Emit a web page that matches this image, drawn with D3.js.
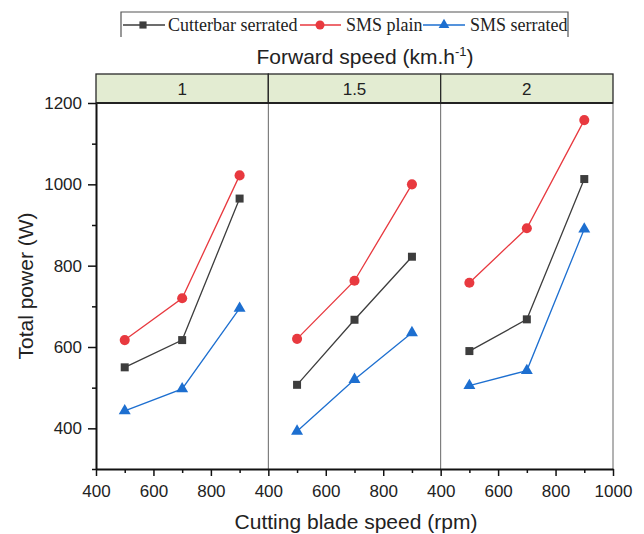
<!DOCTYPE html>
<html>
<head>
<meta charset="utf-8">
<script src="https://cdn.jsdelivr.net/npm/d3@7"></script>
<style>
  body { margin: 0; background: #fff; }
  svg { display: block; }
</style>
</head>
<body>
<svg width="644" height="534"></svg>
<script>
// data
const speeds = ["1", "1.5", "2"];           // forward speed panels (km/h)
const rpm = [500, 700, 900];                  // cutting blade speed
const cutterbarSerrated = [[550, 617, 965], [507, 667, 822], [590, 668, 1013]];
const smsPlain = [[617, 720, 1022], [620, 763, 1000], [758, 892, 1158]];
const smsSerrated = [[443, 497, 695], [393, 520, 635], [505, 542, 890]];
const yTicks = [400, 600, 800, 1000, 1200];
const xTicks = [400, 600, 800, 1000];

const series = [
  {name: "Cutterbar serrated", values: cutterbarSerrated, color: "#3d3d3d", shape: d3.symbolSquare, size: 64},
  {name: "SMS plain", values: smsPlain, color: "#e8393f", shape: d3.symbolCircle, size: 80},
  {name: "SMS serrated", values: smsSerrated, color: "#1d6fd0", shape: d3.symbolTriangle, size: 62}
];

const pLeft = 96, pRight = 613, pTop = 103, pBottom = 469, stripTop = 74;
const panelW = (pRight - pLeft) / speeds.length;

const svg = d3.select("svg");

const y = d3.scaleLinear().domain([300, 1200]).range([pBottom, pTop]);

// strips
const strips = svg.append("g");
speeds.forEach((s, i) => {
  const x0 = pLeft + i * panelW;
  strips.append("rect")
      .attr("x", x0).attr("y", stripTop)
      .attr("width", panelW).attr("height", pTop - stripTop)
      .attr("fill", "#e3ecd2").attr("stroke", "#2a2a2a").attr("stroke-width", 1.3);
  strips.append("text")
      .attr("x", x0 + panelW / 2).attr("y", stripTop + 21)
      .attr("text-anchor", "middle")
      .style("font", "17px 'Liberation Sans', Arial, sans-serif")
      .attr("fill", "#222")
      .text(s);
});

// panels
speeds.forEach((s, i) => {
  const x0 = pLeft + i * panelW;
  const x = d3.scaleLinear().domain([400, 1000]).range([x0, x0 + panelW]);
  const g = svg.append("g");

  // panel separator / right frame
  g.append("line")
      .attr("x1", x0 + panelW).attr("x2", x0 + panelW)
      .attr("y1", pTop).attr("y2", pBottom)
      .attr("stroke", "#666").attr("stroke-width", 1);

  // x axis
  const ax = g.append("g").attr("transform", `translate(0,${pBottom})`)
      .call(d3.axisBottom(x).tickValues(i === speeds.length - 1 ? xTicks : xTicks.slice(0, 3))
        .tickSize(7).tickSizeOuter(0).tickFormat(d3.format("d")));
  ax.select(".domain").attr("stroke", "#111").attr("stroke-width", 2);
  ax.selectAll(".tick line").attr("stroke", "#111").attr("stroke-width", 1.5);
  ax.selectAll(".tick text").attr("dy", "1.05em")
      .style("font", "17px 'Liberation Sans', Arial, sans-serif").attr("fill", "#222");
  g.append("g").attr("transform", `translate(0,${pBottom})`)
      .call(d3.axisBottom(x).tickValues([500, 700, 900]).tickSize(4).tickSizeOuter(0).tickFormat(""))
    .call(a => a.select(".domain").remove())
    .selectAll(".tick line").attr("stroke", "#111").attr("stroke-width", 1.5);

  const line = d3.line().x((d, j) => x(rpm[j])).y(d => y(d));

  series.forEach(se => {
    g.append("path")
        .attr("d", line(se.values[i]))
        .attr("fill", "none").attr("stroke", se.color).attr("stroke-width", 1.3);
    g.selectAll(null)
      .data(se.values[i])
      .join("path")
        .attr("transform", (d, j) => `translate(${x(rpm[j])},${y(d)})`)
        .attr("d", d3.symbol(se.shape, se.size))
        .attr("fill", se.color);
  });
});

// y axis
const ay = svg.append("g").attr("transform", `translate(${pLeft},0)`)
    .call(d3.axisLeft(y).tickValues(yTicks).tickSize(8).tickSizeOuter(0).tickPadding(6)
      .tickFormat(d3.format("d")));
ay.select(".domain").attr("stroke", "#111").attr("stroke-width", 2);
ay.selectAll(".tick line").attr("stroke", "#111").attr("stroke-width", 1.5);
ay.selectAll(".tick text").style("font", "17px 'Liberation Sans', Arial, sans-serif").attr("fill", "#222");
svg.append("g").attr("transform", `translate(${pLeft},0)`)
    .call(d3.axisLeft(y).tickValues([300, 500, 700, 900, 1100]).tickSize(4).tickSizeOuter(0).tickFormat(""))
  .call(a => a.select(".domain").remove())
  .selectAll(".tick line").attr("stroke", "#111").attr("stroke-width", 1.5);

// top frame line
svg.append("line").attr("x1", pLeft).attr("x2", pRight).attr("y1", pTop).attr("y2", pTop)
    .attr("stroke", "#222").attr("stroke-width", 2);

// titles
svg.append("text")
    .attr("transform", `translate(33,286) rotate(-90)`)
    .attr("text-anchor", "middle")
    .style("font", "21px 'Liberation Sans', Arial, sans-serif").attr("fill", "#222")
    .text("Total power (W)");

svg.append("text")
    .attr("x", 356).attr("y", 529)
    .attr("text-anchor", "middle")
    .style("font", "21px 'Liberation Sans', Arial, sans-serif").attr("fill", "#222")
    .text("Cutting blade speed (rpm)");

const ft = svg.append("text")
    .attr("x", 365).attr("y", 64)
    .attr("text-anchor", "middle")
    .style("font", "21px 'Liberation Sans', Arial, sans-serif").attr("fill", "#222");
ft.append("tspan").text("Forward speed (km.h");
ft.append("tspan").attr("dy", -8).style("font-size", "13px").text("-1");
ft.append("tspan").attr("dy", 8).text(")");

// legend
const lg = svg.append("g");
lg.append("path")
    .attr("d", "M121,37V12H568V37")
    .attr("fill", "none").attr("stroke", "#555").attr("stroke-width", 1.2);
const legendPos = [{x1: 123, x2: 165, m: 143, t: 168}, {x1: 300, x2: 341, m: 320, t: 346}, {x1: 423, x2: 465, m: 444, t: 470}];
series.forEach((se, k) => {
  const p = legendPos[k];
  lg.append("line").attr("x1", p.x1).attr("x2", p.x2).attr("y1", 25).attr("y2", 25)
      .attr("stroke", se.color).attr("stroke-width", 1.3);
  lg.append("path").attr("transform", `translate(${p.m},25)`)
      .attr("d", d3.symbol(se.shape, se.size * 0.8)).attr("fill", se.color);
  lg.append("text").attr("x", p.t).attr("y", 31)
      .style("font", "18px 'Liberation Serif', 'Times New Roman', serif").attr("fill", "#222")
      .text(se.name);
});
</script>
</body>
</html>
